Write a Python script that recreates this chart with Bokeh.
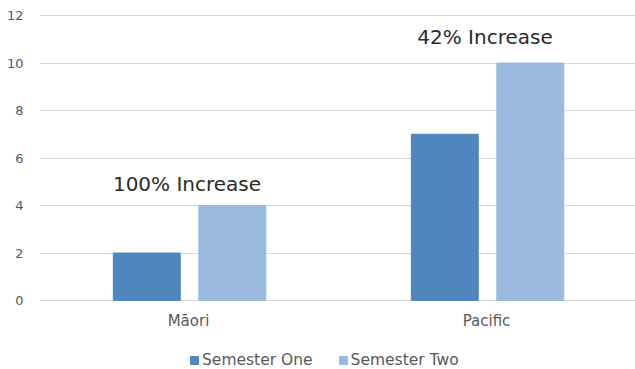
from bokeh.plotting import figure
from bokeh.models import ColumnDataSource, FactorRange, Range1d, Legend, LegendItem, FixedTicker
from bokeh.transform import dodge
from bokeh.core.properties import value
from bokeh.embed import file_html
from bokeh.resources import INLINE

# Data
groups = ["Māori", "Pacific"]
semester_one = [2, 7]
semester_two = [4, 10]
increase_labels = ["100% Increase", "42% Increase"]
y_ticks = [0, 2, 4, 6, 8, 10, 12]

# styling
FONT = "DejaVu Sans"
GREY_TEXT = "#595959"
COLOR_ONE = "#4f86bd"
COLOR_TWO = "#99b9de"
label_lift = [-22, -26]          # px above the Semester Two bar
zero_row = [0, 0]

source = ColumnDataSource(data=dict(
    group=groups,
    one=semester_one,
    two=semester_two,
    label=increase_labels,
    lift=label_lift,
    base=zero_row,
))

# the frame spans the full height so the category labels and legend can sit
# below the value 0 line; 285 px hold the 0..12 value span
px_per_unit = 285 / 12
p = figure(
    width=635, height=369,
    x_range=FactorRange(*groups, range_padding=0),
    y_range=Range1d(-69 / px_per_unit, 12 + 15 / px_per_unit),
    output_backend="svg",
    toolbar_location=None,
    min_border_left=39, min_border_right=0, min_border_top=0, min_border_bottom=0,
    outline_line_color=None,
    background_fill_color="white", border_fill_color="white",
)

r1 = p.vbar(x=dodge("group", -0.14, range=p.x_range), top="one", width=0.2245,
            source=source, fill_color=COLOR_ONE, line_color=COLOR_ONE)
r2 = p.vbar(x=dodge("group", 0.147, range=p.x_range), top="two", width=0.2245,
            source=source, fill_color=COLOR_TWO, line_color=COLOR_TWO)

# increase annotations above the Semester Two bars
p.text(x=dodge("group", -0.005, range=p.x_range), y="two", text="label", source=source,
       text_font=value(FONT), text_font_size="20px", text_color="#2b2b2b",
       text_align="center", text_baseline="alphabetic", y_offset="lift")

# category labels under the zero line
p.text(x="group", y="base", text="group", source=source,
       text_font=value(FONT), text_font_size="15px", text_color=GREY_TEXT,
       text_align="center", text_baseline="alphabetic", y_offset=20)

# value axis
p.yaxis.ticker = FixedTicker(ticks=y_ticks)
p.yaxis.axis_line_color = None
p.yaxis.major_tick_line_color = None
p.yaxis.minor_tick_line_color = None
p.yaxis.major_tick_in = 0
p.yaxis.major_tick_out = 0
p.yaxis.major_label_standoff = 16
p.yaxis.major_label_text_font = FONT
p.yaxis.major_label_text_font_size = "13px"
p.yaxis.major_label_text_color = GREY_TEXT

p.xaxis.visible = False
p.xgrid.grid_line_color = None
p.ygrid.ticker = FixedTicker(ticks=y_ticks)
p.ygrid.grid_line_color = "#d9d9d9"
p.ygrid.grid_line_width = 1

legend = Legend(
    items=[LegendItem(label="Semester One", renderers=[r1]),
           LegendItem(label="Semester Two", renderers=[r2])],
    orientation="horizontal", location=(150, 0),
    border_line_color=None, background_fill_alpha=0,
    label_text_font=FONT, label_text_font_size="15.5px", label_text_color=GREY_TEXT,
    glyph_width=10, glyph_height=10, label_standoff=3, spacing=25,
    margin=0, padding=0,
)
p.add_layout(legend)

open("out.html", "w").write(file_html(p, INLINE))
